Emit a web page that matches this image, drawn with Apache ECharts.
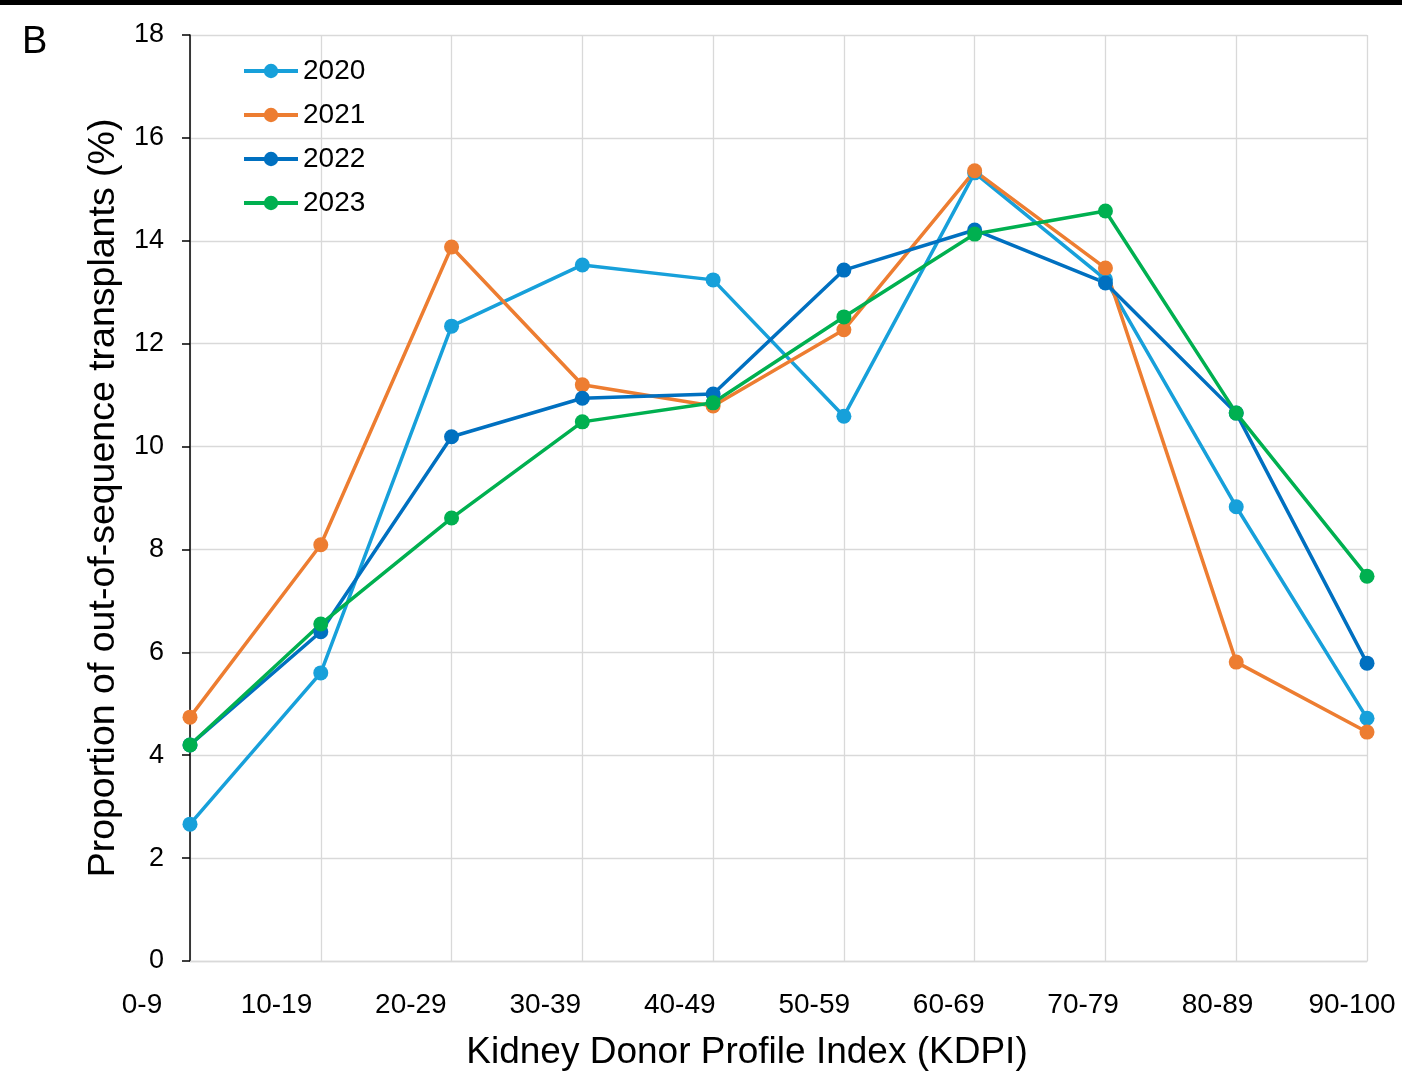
<!DOCTYPE html>
<html>
<head>
<meta charset="utf-8">
<script src="https://cdn.jsdelivr.net/npm/echarts@6/dist/echarts.min.js"></script>
<style>
html,body{margin:0;padding:0;background:#fff;}
#chart{width:1402px;height:1076px;}
</style>
</head>
<body>
<div id="chart"></div>
<script>
const categories = ['0-9','10-19','20-29','30-39','40-49','50-59','60-69','70-79','80-89','90-100'];
const s2020 = [2.66, 5.60, 12.34, 13.53, 13.24, 10.59, 15.32, 13.25, 8.83, 4.72];
const s2021 = [4.74, 8.09, 13.88, 11.20, 10.79, 12.27, 15.36, 13.47, 5.81, 4.45];
const s2022 = [4.20, 6.40, 10.19, 10.94, 11.02, 13.43, 14.21, 13.18, 10.65, 5.79];
const s2023 = [4.20, 6.55, 8.61, 10.48, 10.85, 12.52, 14.13, 14.58, 10.65, 7.48];
const yTicks = [0, 2, 4, 6, 8, 10, 12, 14, 16, 18];

const FONT = '"Liberation Sans", Arial, sans-serif';
const colors = ['#17a0da', '#ed7d31', '#0070c0', '#00b050'];
const names = ['2020', '2021', '2022', '2023'];
const data = [s2020, s2021, s2022, s2023];

const chart = echarts.init(document.getElementById('chart'), null, {renderer: 'canvas'});
const option = {
  backgroundColor: '#fff',
  animation: false,
  color: colors,
  textStyle: {fontFamily: FONT},
  graphic: [
    {type: 'rect', left: 0, top: 0, shape: {width: 1402, height: 5}, style: {fill: '#000'}},
    {type: 'text', left: 22, top: 24, style: {text: 'B', font: '38px ' + FONT, fill: '#000'}}
  ],
  legend: {
    orient: 'vertical',
    left: 242,
    top: 56,
    padding: 0,
    itemWidth: 54,
    itemHeight: 18,
    itemGap: 14,
    lineStyle: {width: 4},
    textStyle: {fontSize: 28, color: '#000', fontFamily: FONT, lineHeight: 30},
    data: names
  },
  grid: [
    {left: 190, right: 35, top: 35, bottom: 115, containLabel: false},
    {left: 142, right: 50, top: 35, bottom: 115, containLabel: false}
  ],
  xAxis: [
    {
      type: 'category', gridIndex: 0, data: categories, boundaryGap: false,
      axisLine: {show: true, lineStyle: {color: '#d9d9d9', width: 1.3}},
      axisTick: {show: false},
      axisLabel: {show: false},
      splitLine: {show: true, lineStyle: {color: '#d9d9d9', width: 1.3}}
    },
    {
      type: 'category', gridIndex: 1, data: categories, boundaryGap: false,
      axisLine: {show: false}, axisTick: {show: false}, splitLine: {show: false},
      axisLabel: {show: true, interval: 0, margin: 31, fontSize: 28, color: '#000', fontFamily: FONT},
      name: 'Kidney Donor Profile Index (KDPI)',
      nameLocation: 'middle', nameGap: 74,
      nameTextStyle: {fontSize: 37, color: '#000', fontFamily: FONT}
    }
  ],
  yAxis: [
    {
      type: 'value', gridIndex: 0, min: yTicks[0], max: yTicks[yTicks.length - 1], interval: 2,
      axisLine: {show: true, lineStyle: {color: '#000', width: 1.5}},
      axisTick: {show: true, length: 8, inside: false, lineStyle: {color: '#000', width: 1.5}},
      axisLabel: {margin: 26, fontSize: 27, color: '#000', fontFamily: FONT},
      splitLine: {show: true, lineStyle: {color: '#d9d9d9', width: 1.3}},
      name: 'Proportion of out-of-sequence transplants (%)',
      nameLocation: 'middle', nameGap: 66,
      nameTextStyle: {fontSize: 37.5, color: '#000', fontFamily: FONT}
    },
    {type: 'value', gridIndex: 1, show: false, min: 0, max: 18}
  ],
  series: names.map((n, i) => ({
    name: n,
    type: 'line',
    xAxisIndex: 0, yAxisIndex: 0,
    data: data[i],
    symbol: 'circle',
    symbolSize: 15,
    lineStyle: {width: 3.5, color: colors[i]},
    itemStyle: {color: colors[i]},
    emphasis: {disabled: true}
  }))
};
chart.setOption(option);
</script>
</body>
</html>
